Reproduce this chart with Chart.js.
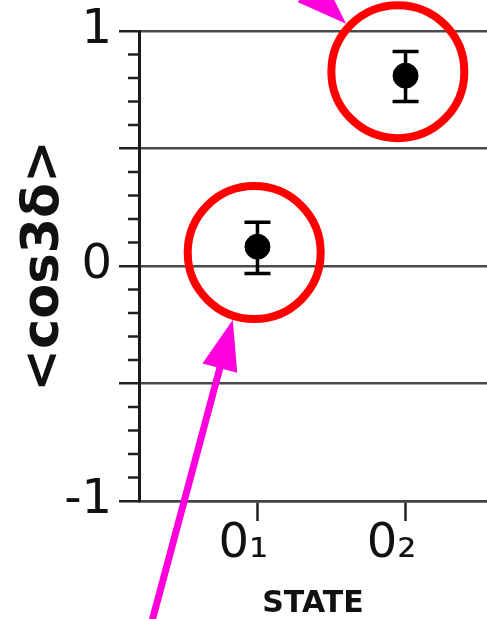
<!DOCTYPE html>
<html>
<head>
<meta charset="utf-8">
<script src="https://cdn.jsdelivr.net/npm/chart.js@4"></script>
<style>
  body { margin: 0; background: #fff; }
  #wrap { width: 487px; height: 619px; }
</style>
</head>
<body>
<div id="wrap"><canvas id="myChart"></canvas></div>
<script>
const stateLabels = ['0\u2081', '0\u2082'];
const statePos = [1, 2];
const meanCos = [0.082, 0.81];
const errLow = [-0.032, 0.70];
const errHigh = [0.186, 0.913];
const yTickValues = [-1, -0.5, 0, 0.5, 1];
const yTickLabels = ['-1', '', '0', '', '1'];
const yMinorStep = 0.1;

// red rings around the points (data units) and the magenta arrows pointing at them
const circleCenters = [[0.978, 0.057], [1.948, 0.827]];
const arrowTipAngles = [107.7, 222.7];
const arrowTailAngles = [105, 224];
const arrowLengths = [340, 200];

const FONT = '"DejaVu Sans", sans-serif';

const markup = {
  id: 'markup',
  beforeDatasetsDraw(chart) {
    const { ctx, scales: { x, y } } = chart;
    ctx.save();
    ctx.strokeStyle = '#000';
    ctx.lineWidth = 3.5;
    statePos.forEach((p, i) => {
      const px = x.getPixelForValue(p);
      const lo = y.getPixelForValue(errLow[i]);
      const hi = y.getPixelForValue(errHigh[i]);
      ctx.beginPath();
      ctx.moveTo(px, lo); ctx.lineTo(px, hi);
      ctx.moveTo(px - 13, lo); ctx.lineTo(px + 13, lo);
      ctx.moveTo(px - 13, hi); ctx.lineTo(px + 13, hi);
      ctx.stroke();
    });
    ctx.restore();
  },
  afterDraw(chart) {
    const { ctx, chartArea, scales: { x, y } } = chart;
    ctx.save();

    // minor ticks on the y axis
    ctx.strokeStyle = '#222';
    ctx.lineWidth = 2.5;
    const n = Math.round(1 / yMinorStep);
    for (let k = -n; k <= n; k++) {
      if (k % 5 === 0) continue;
      const py = y.getPixelForValue(k * yMinorStep);
      ctx.beginPath();
      ctx.moveTo(chartArea.left - 11, py);
      ctx.lineTo(chartArea.left, py);
      ctx.stroke();
    }

    // rings
    const R = 66.5;
    ctx.strokeStyle = '#ff0000';
    ctx.lineWidth = 8;
    circleCenters.forEach(([cx, cy]) => {
      ctx.beginPath();
      ctx.arc(x.getPixelForValue(cx), y.getPixelForValue(cy), R, 0, Math.PI * 2);
      ctx.stroke();
    });

    // arrows
    ctx.strokeStyle = '#ff00dd';
    ctx.fillStyle = '#ff00dd';
    circleCenters.forEach(([cx, cy], i) => {
      const a = arrowTipAngles[i] * Math.PI / 180;
      const b = arrowTailAngles[i] * Math.PI / 180;
      const tx = x.getPixelForValue(cx) + (R + 4) * Math.cos(a);
      const ty = y.getPixelForValue(cy) + (R + 4) * Math.sin(a);
      const ux = Math.cos(b), uy = Math.sin(b);
      const headLen = 50, headW = 18;
      const bx = tx + ux * headLen, by = ty + uy * headLen;
      ctx.lineWidth = 7;
      ctx.beginPath();
      ctx.moveTo(bx - ux * 2, by - uy * 2);
      ctx.lineTo(tx + ux * arrowLengths[i], ty + uy * arrowLengths[i]);
      ctx.stroke();
      ctx.beginPath();
      ctx.moveTo(tx, ty);
      ctx.lineTo(bx - uy * headW, by + ux * headW);
      ctx.lineTo(bx + uy * headW, by - ux * headW);
      ctx.closePath();
      ctx.fill();
    });

    ctx.restore();
  }
};

new Chart(document.getElementById('myChart'), {
  type: 'scatter',
  data: {
    datasets: [{
      data: statePos.map((p, i) => ({ x: p, y: meanCos[i] })),
      backgroundColor: '#000',
      borderColor: '#000',
      pointRadius: 12.5,
      pointHoverRadius: 12.5
    }]
  },
  options: {
    responsive: true,
    maintainAspectRatio: false,
    animation: false,
    layout: { autoPadding: false, padding: { top: 31, right: 0, bottom: 0, left: 0 } },
    plugins: { legend: { display: false }, tooltip: { enabled: false } },
    scales: {
      x: {
        type: 'linear',
        min: 0.2,
        max: 2.55,
        afterFit: (scale) => { scale.height = 118; scale.paddingLeft = 0; scale.paddingRight = 0; },
        afterBuildTicks: (scale) => { scale.ticks = statePos.map(v => ({ value: v })); },
        grid: { drawOnChartArea: false, tickLength: 20, tickColor: '#222', tickWidth: 2.5 },
        border: { display: true, color: '#444', width: 2.5 },
        ticks: {
          color: '#111',
          font: { family: FONT, size: 48 },
          padding: -5,
          labelOffset: -14,
          maxRotation: 0,
          callback: (v) => stateLabels[statePos.indexOf(v)] ?? ''
        },
        title: {
          display: true,
          text: 'STATE',
          color: '#111',
          font: { family: FONT, size: 30, weight: 'bold', lineHeight: 1 },
          padding: { top: 0, bottom: 0 }
        }
      },
      y: {
        min: -1,
        max: 1,
        afterFit: (scale) => { scale.width = 139; scale.paddingTop = 0; scale.paddingBottom = 0; },
        afterBuildTicks: (scale) => { scale.ticks = yTickValues.map(v => ({ value: v })); },
        grid: { color: '#4a4a4a', lineWidth: 2.5, tickLength: 20, tickColor: '#222', tickWidth: 2.5 },
        border: { display: true, color: '#1a1a1a', width: 3 },
        ticks: {
          color: '#111',
          font: { family: FONT, size: 48 },
          padding: 7,
          callback: (v) => yTickLabels[yTickValues.indexOf(v)] ?? ''
        },
        title: {
          display: true,
          text: '<cos3\u03b4>',
          color: '#111',
          font: { family: FONT, size: 51, weight: 'bold', lineHeight: 1 },
          padding: { top: 19, bottom: 0 }
        }
      }
    }
  },
  plugins: [markup]
});
</script>
</body>
</html>
